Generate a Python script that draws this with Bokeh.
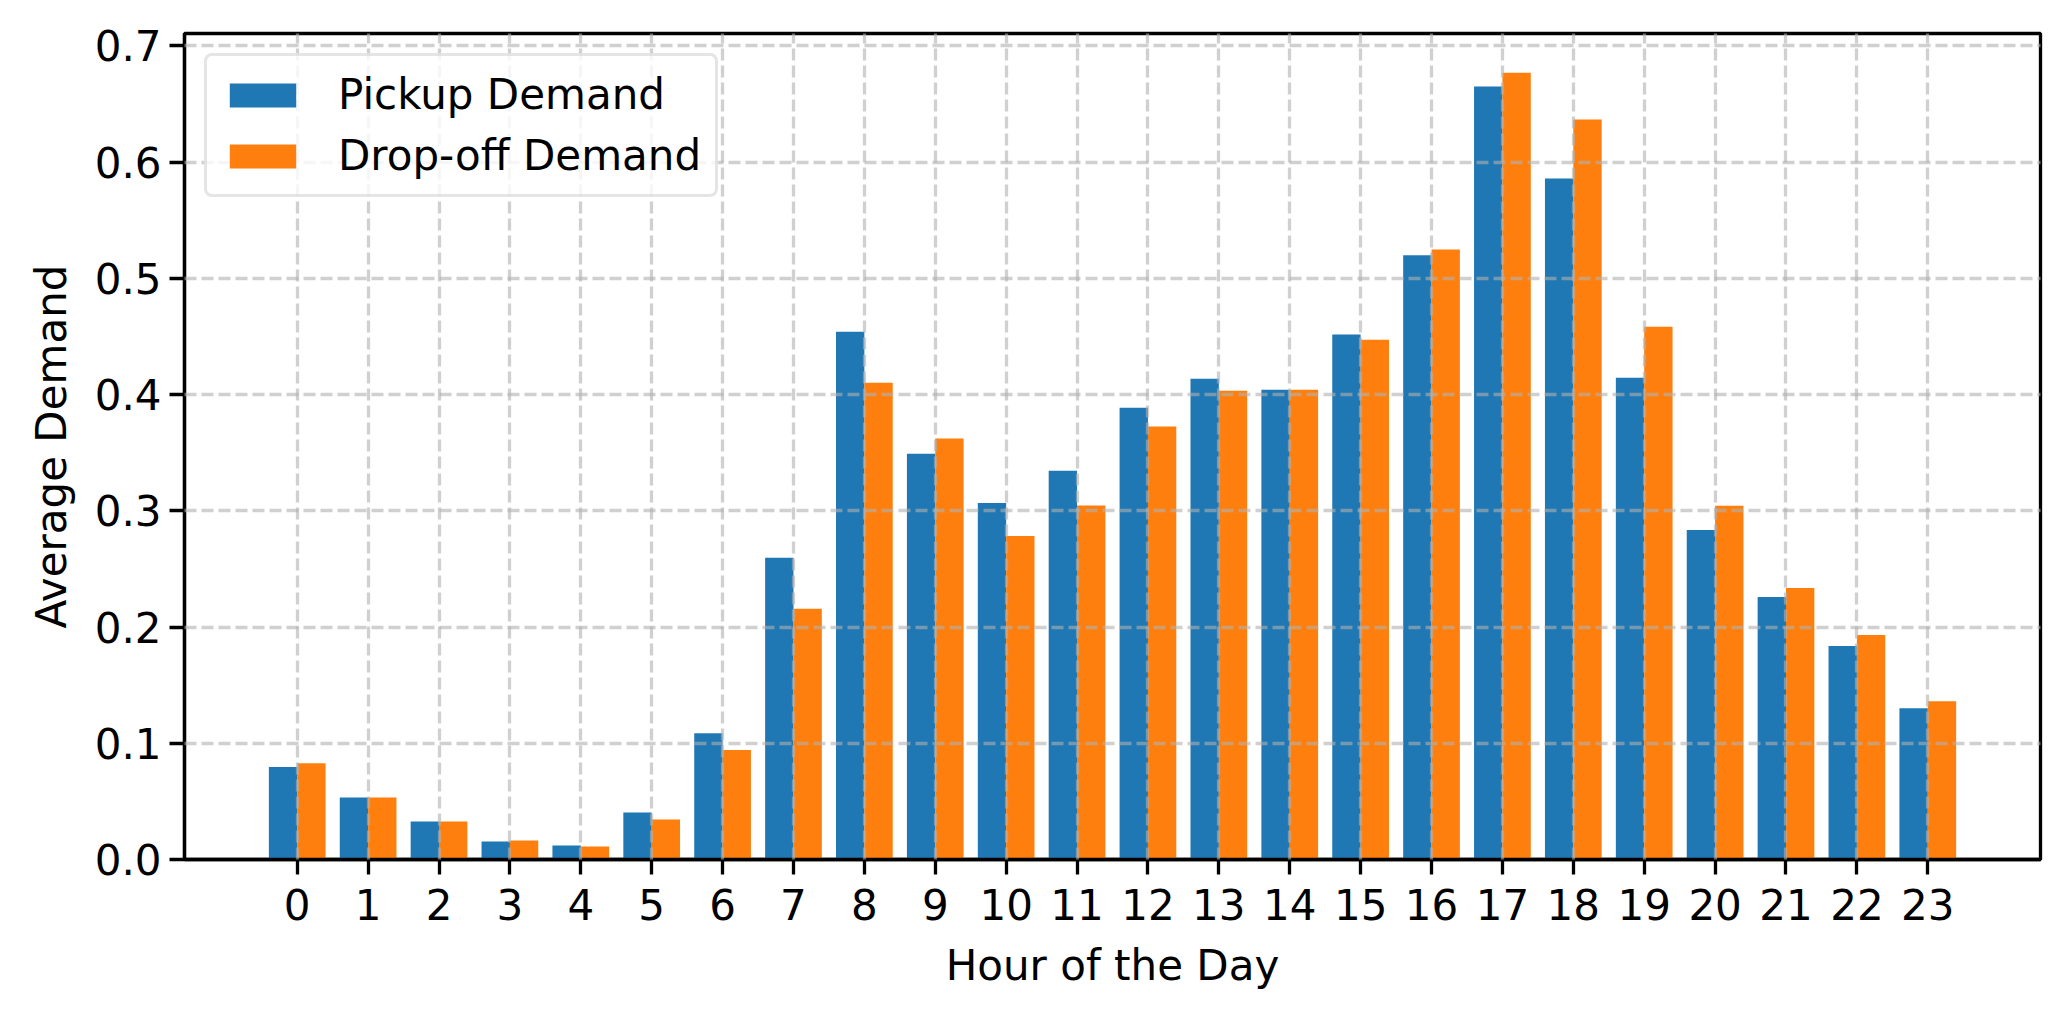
from bokeh.plotting import figure
from bokeh.models import ColumnDataSource, Range1d, FixedTicker, NumeralTickFormatter
from bokeh.transform import dodge
from bokeh.embed import file_html
from bokeh.resources import INLINE

hours = list(range(24))
pickup = [0.0795, 0.0534, 0.0328, 0.0155, 0.0121, 0.0405, 0.1087, 0.2596,
          0.4540, 0.3491, 0.3068, 0.3345, 0.3887, 0.4137, 0.4041, 0.4517,
          0.5198, 0.6650, 0.5859, 0.4144, 0.2836, 0.2259, 0.1836, 0.1302]
dropoff = [0.0829, 0.0534, 0.0328, 0.0164, 0.0112, 0.0345, 0.0943, 0.2158,
           0.4102, 0.3622, 0.2784, 0.3045, 0.3726, 0.4033, 0.4041, 0.4471,
           0.5248, 0.6770, 0.6366, 0.4584, 0.3043, 0.2336, 0.1931, 0.1362]
y_ticks = [0.0, 0.1, 0.2, 0.3, 0.4, 0.5, 0.6, 0.7]

FONT = "DejaVu Sans"
FS = "42px"
LW = 3.3

source = ColumnDataSource(dict(hour=hours, pickup=pickup, dropoff=dropoff))

p = figure(width=2062, height=1012, output_backend="svg", toolbar_location=None,
           x_range=Range1d(-1.59, 24.59), y_range=Range1d(0, 0.7107),
           min_border_left=184, min_border_right=22, min_border_top=33,
           min_border_bottom=153)

p.vbar(x=dodge('hour', -0.2), top='pickup', width=0.4, source=source,
       fill_color="#1f77b4", line_color=None, legend_label="Pickup Demand")
p.vbar(x=dodge('hour', 0.2), top='dropoff', width=0.4, source=source,
       fill_color="#ff7f0e", line_color=None, legend_label="Drop-off Demand")

p.outline_line_color = "black"
p.outline_line_width = LW
p.outline_line_alpha = 1.0
p.background_fill_color = "white"
p.border_fill_color = "white"

p.xaxis.ticker = FixedTicker(ticks=hours)
p.yaxis.ticker = FixedTicker(ticks=y_ticks)
p.yaxis.formatter = NumeralTickFormatter(format="0.0")
p.xaxis.axis_label = "Hour of the Day"
p.yaxis.axis_label = "Average Demand"

for ax in (p.xaxis[0], p.yaxis[0]):
    ax.axis_line_width = LW
    ax.axis_line_color = "black"
    ax.major_tick_line_width = LW
    ax.major_tick_line_color = "black"
    ax.major_tick_out = 15
    ax.major_tick_in = 0
    ax.minor_tick_line_color = None
    ax.major_label_text_font = FONT
    ax.major_label_text_font_size = FS
    ax.major_label_text_color = "black"
    ax.axis_label_text_font = FONT
    ax.axis_label_text_font_size = FS
    ax.axis_label_text_font_style = "normal"
    ax.axis_label_text_color = "black"

p.xaxis.major_label_standoff = 14
p.yaxis.major_label_standoff = 8
p.xaxis.axis_label_standoff = 18
p.yaxis.axis_label_standoff = 16

for g in (p.xgrid[0], p.ygrid[0]):
    g.grid_line_color = "#b0b0b0"
    g.grid_line_alpha = 0.6
    g.grid_line_width = LW
    g.grid_line_dash = "12 5"
    g.level = "guide"

lg = p.legend[0]
lg.location = "top_left"
lg.margin = 20
lg.padding = 14
lg.spacing = 12
lg.label_text_font = FONT
lg.label_text_font_size = FS
lg.label_text_color = "black"
lg.glyph_width = 83
lg.glyph_height = 30
lg.label_standoff = 34
lg.border_line_color = "#cccccc"
lg.border_line_width = 3.5
lg.background_fill_color = "white"
lg.background_fill_alpha = 0.8
if "border_radius" in lg.properties():
    lg.border_radius = 8

open("out.html", "w").write(file_html(p, INLINE))
